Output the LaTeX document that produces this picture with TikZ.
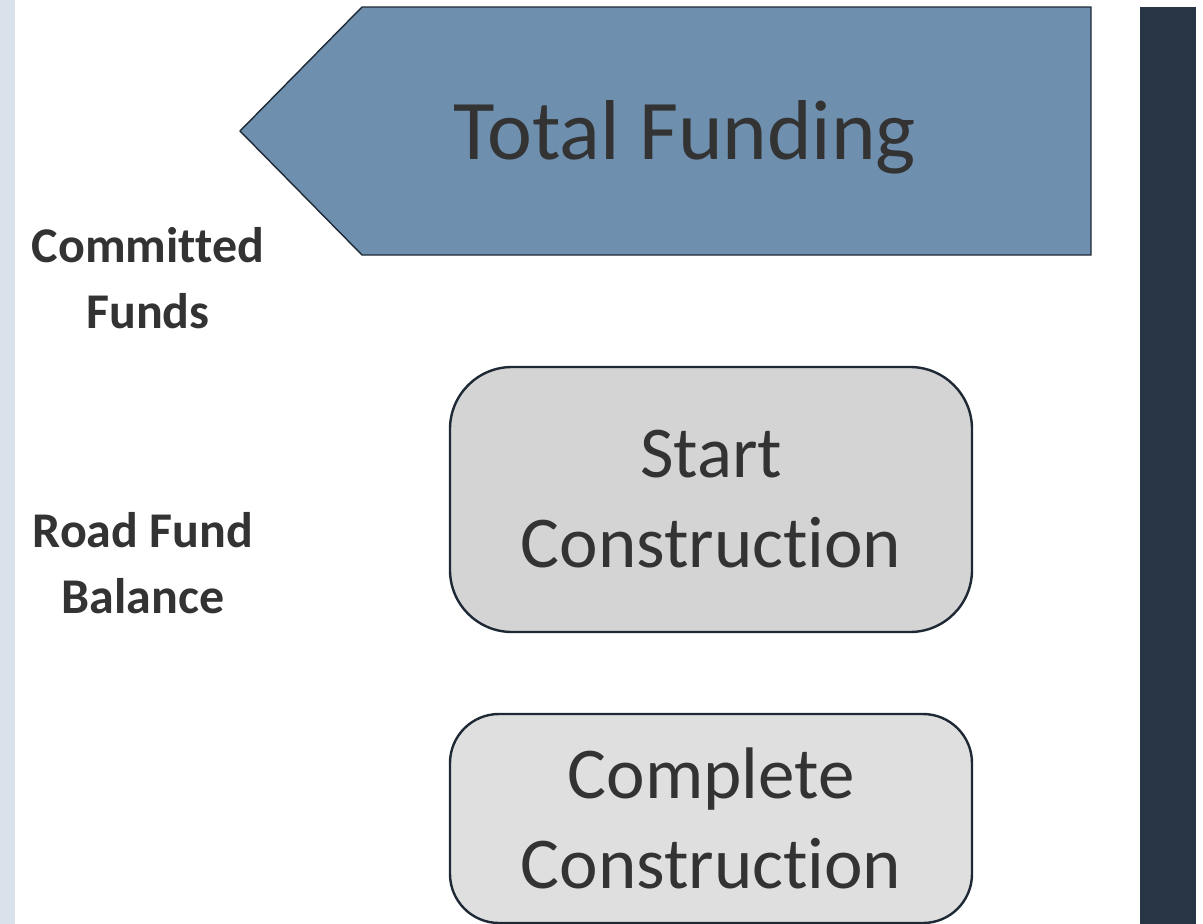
\documentclass[tikz,border=0pt]{standalone}
\usepackage{fontspec}
\setmainfont{Carlito}[Ligatures=NoCommon]
\definecolor{stripBlue}{HTML}{D9E2EA}
\definecolor{panelNavy}{HTML}{283544}
\definecolor{fundBlue}{HTML}{6F8FAE}
\definecolor{edgeNavy}{HTML}{1E2935}
\definecolor{textGray}{HTML}{333333}
\definecolor{startGray}{HTML}{D4D4D4}
\definecolor{completeGray}{HTML}{DFDFDF}
\begin{document}
\begin{tikzpicture}[x=1pt,y=-1pt,
        phaseBox/.style={draw=edgeNavy,line width=2.4pt,minimum width=522pt,inner sep=0pt,
          text=textGray,align=center,font=\fontsize{73}{90}\selectfont},
        sideLabel/.style={text=textGray,align=center,inner sep=0pt,font=\fontsize{50}{66}\selectfont\bfseries}]
        \useasboundingbox (0,0) rectangle (1203,924);
        \fill[stripBlue] (0,0) rectangle (15,924);
        \fill[panelNavy] (1140,7) rectangle (1196,924);
        \pgfmathsetmacro{\tipX}{240}
        \pgfmathsetmacro{\shoulderX}{362}
        \pgfmathsetmacro{\fundTop}{7}
        \pgfmathsetmacro{\fundBottom}{255}
        \draw[fill=fundBlue,draw=edgeNavy,line width=1.4pt,line join=miter]
          (\tipX,{(\fundTop+\fundBottom)/2}) -- (\shoulderX,\fundTop) -- (1091,\fundTop)
          -- (1091,\fundBottom) -- (\shoulderX,\fundBottom) -- cycle;
        \node[anchor=base,text=textGray,inner sep=0pt,font=\fontsize{85}{100}\selectfont] (totalFunding) at (685,159) {Total Funding};
        \node[sideLabel] (committedFunds) at (148,278) {Committed\\Funds};
        \node[sideLabel] (roadFund) at (143,563) {Road Fund\\Balance};
        \node[phaseBox,fill=startGray,minimum height=265pt,rounded corners=62pt] (startBox) at (711,499.5) {Start\\Construction};
        \node[phaseBox,fill=completeGray,minimum height=209pt,rounded corners=49pt] (completeBox) at (711,818.5) {Complete\\Construction};
      \end{tikzpicture}
\end{document}
